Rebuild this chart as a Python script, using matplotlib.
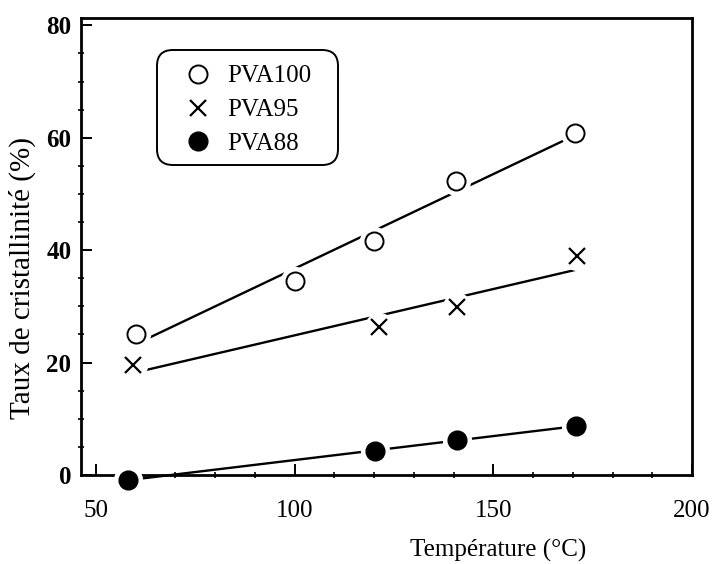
import numpy as np
import matplotlib
matplotlib.use("Agg")
import matplotlib.pyplot as plt
from matplotlib.patches import FancyBboxPatch

# ---- data ----
t_pva100 = [60, 100, 120, 140.5, 170.5]
c_pva100 = [25.0, 34.5, 41.6, 52.3, 60.8]

t_pva95 = [59.3, 121.3, 140.8, 171]
c_pva95 = [19.5, 26.3, 29.9, 38.9]

t_pva88 = [58, 120.3, 140.8, 170.8]
c_pva88 = [-0.9, 4.3, 6.2, 8.7]

labels = ["PVA100", "PVA95", "PVA88"]
xticks = [50, 100, 150, 200]
yticks = [0, 20, 40, 60, 80]

plt.rcParams['font.family'] = ['Liberation Serif', 'DejaVu Serif']

fig = plt.figure(figsize=(7.15, 5.64), dpi=100)
ax = fig.add_axes([81/715, 1-475/564, (692-81)/715, (475-18)/564])

ax.set_xlim(46.25, 199)
ax.set_ylim(0, 81.3)

series = [
    (t_pva100, c_pva100, dict(marker='o', mfc='white', mec='black', ms=13, mew=1.4)),
    (t_pva95, c_pva95, dict(marker='x', mfc='none', mec='black', ms=12, mew=1.6)),
    (t_pva88, c_pva88, dict(marker='o', mfc='black', mec='black', ms=13.5, mew=1.0)),
]

handles = []
for (tx, cy, mk), lab in zip(series, labels):
    tx = np.asarray(tx, float)
    cy = np.asarray(cy, float)
    p = np.polyfit(tx, cy, 1)
    xs = np.array([tx.min(), tx.max()])
    ax.plot(xs, np.polyval(p, xs), color='black', lw=1.7, zorder=2,
            solid_capstyle='butt', clip_on=False)
    # white halo that interrupts the fit line around each marker
    ax.plot(tx, cy, linestyle='none', marker='o', ms=20, mfc='white',
            mec='white', zorder=3, clip_on=False)
    h, = ax.plot(tx, cy, linestyle='none', zorder=4, clip_on=False, label=lab, **mk)
    handles.append(h)

# ticks
ax.set_xticks(xticks)
ax.set_yticks(yticks)
ax.set_xticks(np.arange(60, 200, 10), minor=True)
ax.set_yticks(np.arange(5, 80, 5), minor=True)
ax.tick_params(axis='both', which='major', direction='in', length=8, width=1.4,
               top=False, right=False)
ax.tick_params(axis='both', which='minor', direction='inout', length=5, width=1.2,
               top=False, right=False)
ax.tick_params(axis='x', which='major', labelsize=18, pad=18)
ax.tick_params(axis='y', which='major', labelsize=18, pad=7)
for lbl in ax.get_yticklabels():
    lbl.set_fontweight('bold')

for s in ax.spines.values():
    s.set_linewidth(2.0)

ax.set_xlabel("Température (°C)", fontsize=18)
ax.xaxis.set_label_coords((498-81)/611, -(539-475)/457)
ax.set_ylabel("Taux de cristallinité (%)", fontsize=21)
ax.yaxis.set_label_coords(-(81-36)/611, (475-278)/457)

# legend with rounded frame
leg = ax.legend(handles=handles, loc='upper left',
                bbox_to_anchor=((178-81)/611, (475-65)/457),
                frameon=False, fontsize=18, handlelength=1.6,
                handletextpad=0.35, labelspacing=0.45, borderpad=0,
                borderaxespad=0)
box = FancyBboxPatch(((157-81)/611, (475-165)/457), (338-157)/611, (165-50)/457,
                     boxstyle="round,pad=0,rounding_size=0.026",
                     mutation_aspect=611/457,
                     transform=ax.transAxes, facecolor='white',
                     edgecolor='black', lw=1.4, zorder=5)
ax.add_patch(box)
leg.set_zorder(6)

fig.savefig("out.png", dpi=100)
